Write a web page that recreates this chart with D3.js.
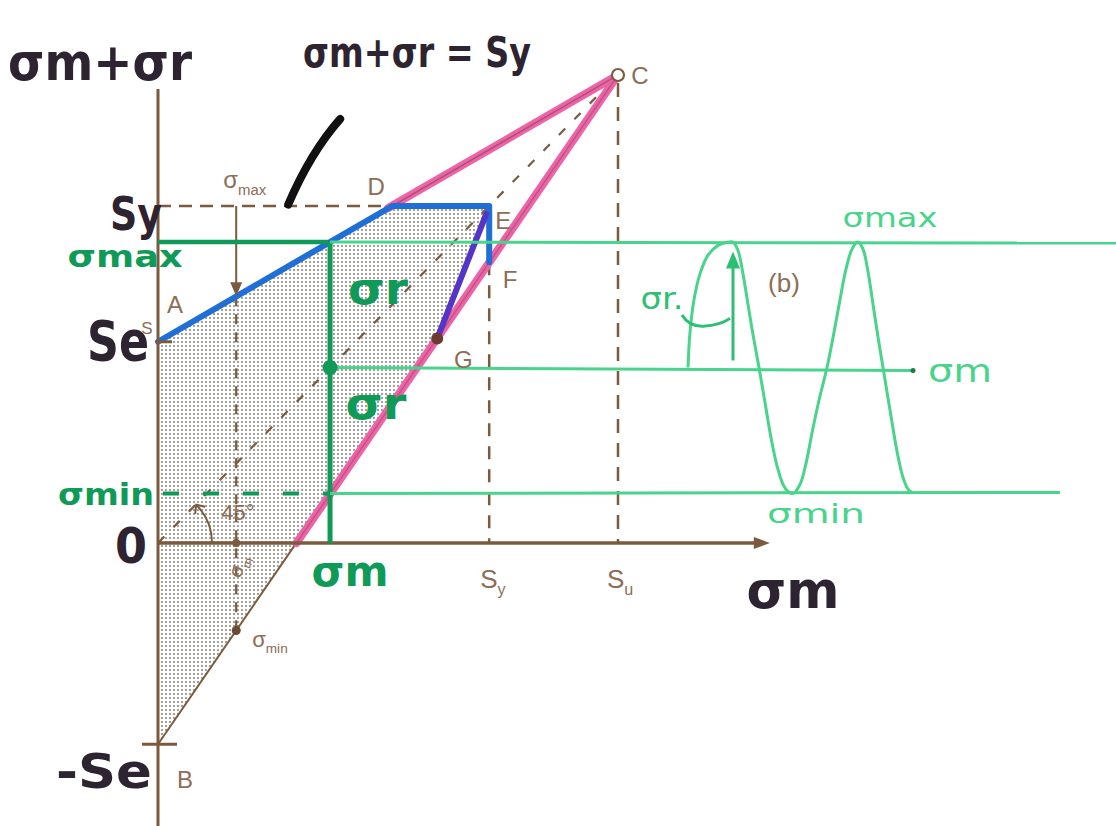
<!DOCTYPE html>
<html><head><meta charset="utf-8">
<script src="https://cdn.jsdelivr.net/npm/d3@7"></script>
<style>body{margin:0;background:#fff} svg{display:block}</style>
</head><body>
<svg id="c" width="1116" height="826"></svg>
<script>
// ---------------- data ----------------
const strengthNames = ["Se", "Sy", "Su"];
const strengthValues = [43, 72, 100];
const cornerNames = ["A", "D", "E", "F", "G", "B", "C"];
const cornerX = [0, 50.9, 72, 72, 60.7, 0, 100];
const cornerY = [43, 72, 72, 60, 43.7, -43, 100];
const lowerLineZeroX = 30.1;            // where line B-C crosses the σm axis
const exampleMean = [37.4, 17];          // σm of the two worked examples
const exampleMax = [64.3, 52.7];         // σmax
const exampleMin = [10.6, -18.7];        // σmin
const exampleMidY = [37.5];              // σm level on the 45° line
const xAxisExtent = [0, 133];
const yAxisExtent = [-61, 97];
// cyclic stress sketch (b): time vs stress
const waveT = [0,2,6,12,20,30,38,45,50,55,60,65,71,77,83,89,95,100,105,112,118,124,131,139,146,152,158,164,170,175,180,185,190,195,200,205,210,215,220,224];
const waveS = [37.5,45,52,57.5,61.5,63.6,64.2,64.3,62.5,57.5,51,44.5,37.5,30,22.5,16.5,12.5,11,10.6,12.5,17,23.5,30.5,37.5,45,52,58.5,62.8,64.3,62.8,58,51,44,37.5,31,24.5,18.5,14,11.5,10.8];
const waveRightEnds = [1116, 913, 1060]; // σmax, σm, σmin guide line ends (px of sketch b)

// ---------------- scales ----------------
const svg = d3.select("#c");
const x = d3.scaleLinear().domain([0, 100]).range([158, 618]);
const y = d3.scaleLinear().domain([0, 100]).range([543, 75]);
const t = d3.scaleLinear().domain([0, 224]).range([688, 912]);
const P = i => [x(cornerX[i]), y(cornerY[i])];
const Se = strengthValues[0], Sy = strengthValues[1], Su = strengthValues[2];

const BROWN = "#7b5a3e", LBROWN = "#8d6d55", PINK = "#ee63a7", BLUE = "#1f6fd6",
      PURPLE = "#5535c8", DGREEN = "#0f9a57", LGREEN = "#48d48b", INK = "#2e2330";

// pattern
const defs = svg.append("defs");
const pat = defs.append("pattern").attr("id", "dots").attr("width", 4).attr("height", 4)
  .attr("patternUnits", "userSpaceOnUse");
pat.append("circle").attr("cx", 2).attr("cy", 2).attr("r", 1).attr("fill", "#85807a");

const line = d3.line();

// shaded region A-D-E-G-B
const region = [P(0), P(1), P(2), P(4), P(5)];
svg.append("path").attr("d", line(region) + "Z").attr("fill", "url(#dots)").attr("stroke", "none");

// thin brown construction lines A-C and B-C
svg.append("path").attr("d", line([P(0), P(6)])).attr("stroke", BROWN).attr("stroke-width", 2).attr("fill", "none");
svg.append("path").attr("d", line([P(5), P(6)])).attr("stroke", BROWN).attr("stroke-width", 2).attr("fill", "none");

// dashed construction lines
const dashed = (pts, dash, w) => svg.append("path").attr("d", line(pts)).attr("fill", "none")
  .attr("stroke", BROWN).attr("stroke-width", w || 2.5).attr("stroke-dasharray", dash);
dashed([[x(0), y(Sy)], P(1)], "13,8");
dashed([P(3), [x(Sy), y(0)]], "13,10");
dashed([[x(Su), y(Su) + 8], [x(Su), y(0)]], "14,10");
dashed([[x(0), y(0)], [x(Su) - 6, y(Su) + 6]], "9,13", 2.2);
dashed([[x(exampleMean[1]), y(exampleMax[1])], [x(exampleMean[1]), y(exampleMin[1])]], "10,8", 2.2);

// pink
svg.append("path").attr("d", line([[x(cornerX[1]) - 4, y(cornerY[1]) + 2], P(6)]))
  .attr("stroke", PINK).attr("stroke-width", 8).attr("stroke-linecap", "round").attr("fill", "none");
svg.append("path").attr("d", line([[x(lowerLineZeroX), y(0)], P(6)]))
  .attr("stroke", PINK).attr("stroke-width", 8).attr("stroke-linecap", "round").attr("fill", "none");
svg.append("path").attr("d", line([P(1), P(6)])).attr("stroke", "#8a4a5a").attr("stroke-width", 1.4).attr("fill", "none").attr("opacity", 0.7);
svg.append("path").attr("d", line([[x(lowerLineZeroX), y(0)], P(6)])).attr("stroke", "#8a4a5a").attr("stroke-width", 1.4).attr("fill", "none").attr("opacity", 0.5);

// blue A-D-E-F
svg.append("path").attr("d", line([P(0), P(1), P(2), P(3)]))
  .attr("stroke", BLUE).attr("stroke-width", 6).attr("stroke-linejoin", "round").attr("stroke-linecap", "round").attr("fill", "none");
// purple E-G
svg.append("path").attr("d", line([[x(cornerX[2]) - 3, y(cornerY[2]) + 8], P(4)]))
  .attr("stroke", PURPLE).attr("stroke-width", 6).attr("stroke-linecap", "round").attr("fill", "none");

// axes
svg.append("line").attr("x1", x(0)).attr("x2", x(0)).attr("y1", y(yAxisExtent[1])).attr("y2", y(yAxisExtent[0]))
  .attr("stroke", BROWN).attr("stroke-width", 3);
svg.append("line").attr("x1", x(xAxisExtent[0])).attr("x2", x(xAxisExtent[1]) - 6).attr("y1", y(0)).attr("y2", y(0))
  .attr("stroke", BROWN).attr("stroke-width", 3.5);
const xe = x(xAxisExtent[1]), y0 = y(0);
svg.append("path").attr("d", `M${xe},${y0} L${xe - 16},${y0 - 6} L${xe - 16},${y0 + 6} Z`).attr("fill", BROWN);
svg.append("line").attr("x1", x(0) - 16).attr("x2", x(0) + 19).attr("y1", y(-Se)).attr("y2", y(-Se)).attr("stroke", BROWN).attr("stroke-width", 3);
svg.append("line").attr("x1", x(0) - 2).attr("x2", x(0) + 14).attr("y1", y(Se)).attr("y2", y(Se)).attr("stroke", BROWN).attr("stroke-width", 3);

// 45° arc
{
  const r = 54, cx = x(0), cy = y(0);
  const ex = cx + r * Math.cos(Math.PI / 4), ey = cy - r * Math.sin(Math.PI / 4);
  svg.append("path").attr("d", `M${cx + r},${cy} A${r},${r} 0 0 0 ${ex},${ey}`).attr("fill", "none").attr("stroke", BROWN).attr("stroke-width", 2);
  svg.append("path").attr("d", `M${ex - 1},${ey + 9} L${ex},${ey} L${ex + 9},${ey + 2}`).attr("fill", "none").attr("stroke", BROWN).attr("stroke-width", 2);
}

// σmax arrow (example at σm = 17)
{
  const ax = x(exampleMean[1]), y1 = y(Sy), y2 = y(exampleMax[1]);
  svg.append("line").attr("x1", ax).attr("x2", ax).attr("y1", y1).attr("y2", y2 - 10).attr("stroke", BROWN).attr("stroke-width", 2);
  svg.append("path").attr("d", `M${ax},${y2} L${ax - 6},${y2 - 14} L${ax + 6},${y2 - 14} Z`).attr("fill", BROWN);
  svg.append("circle").attr("cx", ax).attr("cy", y(0)).attr("r", 4).attr("fill", BROWN);
  svg.append("circle").attr("cx", ax).attr("cy", y(exampleMin[1])).attr("r", 4.5).attr("fill", "#6b4a35");
}

// green: left (dark) part
const m = exampleMean[0];
svg.append("line").attr("x1", x(0)).attr("x2", x(m) - 2).attr("y1", y(exampleMax[0])).attr("y2", y(exampleMax[0]))
  .attr("stroke", DGREEN).attr("stroke-width", 4.5);
svg.append("line").attr("x1", x(m)).attr("x2", x(m)).attr("y1", y(exampleMax[0])).attr("y2", y(0))
  .attr("stroke", DGREEN).attr("stroke-width", 5);
svg.append("line").attr("x1", x(0) + 5).attr("x2", x(m)).attr("y1", y(exampleMin[0])).attr("y2", y(exampleMin[0]))
  .attr("stroke", DGREEN).attr("stroke-width", 4).attr("stroke-dasharray", "16,24");
// green: light guide lines to sketch (b)
svg.append("line").attr("x1", x(m)).attr("x2", waveRightEnds[0]).attr("y1", y(exampleMax[0])).attr("y2", y(exampleMax[0]) + 1)
  .attr("stroke", LGREEN).attr("stroke-width", 3);
svg.append("line").attr("x1", x(m)).attr("x2", waveRightEnds[1]).attr("y1", y(exampleMidY[0])).attr("y2", y(exampleMidY[0]) + 3)
  .attr("stroke", LGREEN).attr("stroke-width", 3);
svg.append("line").attr("x1", x(m)).attr("x2", waveRightEnds[2]).attr("y1", y(exampleMin[0])).attr("y2", y(exampleMin[0]) - 1)
  .attr("stroke", LGREEN).attr("stroke-width", 3);
svg.append("circle").attr("cx", waveRightEnds[1]).attr("cy", y(exampleMidY[0]) + 3).attr("r", 2.5).attr("fill", "#1f7a45");
svg.append("circle").attr("cx", x(m)).attr("cy", y(exampleMidY[0])).attr("r", 7.5).attr("fill", DGREEN);

// G dot, C circle
svg.append("circle").attr("cx", P(4)[0]).attr("cy", P(4)[1]).attr("r", 6).attr("fill", "#6b3a33");
svg.append("circle").attr("cx", P(6)[0]).attr("cy", P(6)[1]).attr("r", 6).attr("fill", "#fff").attr("stroke", BROWN).attr("stroke-width", 2.2);

// wave (b)
const waveData = waveT.map((d, i) => [t(d), y(waveS[i])]);
svg.append("path").attr("d", d3.line().curve(d3.curveCatmullRom)(waveData)).attr("fill", "none")
  .attr("stroke", LGREEN).attr("stroke-width", 3);
{
  const ax = t(waveT[7]), yb = y(exampleMidY[0] + 1.5), yt = y(waveS[7] - 2);
  svg.append("line").attr("x1", ax).attr("x2", ax).attr("y1", yb).attr("y2", yt + 10).attr("stroke", "#2fbf72").attr("stroke-width", 3);
  svg.append("path").attr("d", `M${ax},${yt} L${ax - 7},${yt + 17} L${ax + 7},${yt + 17} Z`).attr("fill", "#2fbf72");
  const pp = d3.path();
  pp.moveTo(ax - 51, y(48.7));
  pp.quadraticCurveTo(ax - 44, y(46.2), ax - 30, y(46.3));
  pp.quadraticCurveTo(ax - 12, y(46.6), ax - 3, y(48));
  svg.append("path").attr("d", pp.toString()).attr("fill", "none").attr("stroke", "#2fbf72").attr("stroke-width", 3);
}

// black pointer stroke
{
  const pp = d3.path();
  pp.moveTo(x(39.6), y(90.6));
  pp.quadraticCurveTo(x(33.2), y(83.5), x(28.3), y(72.3));
  svg.append("path").attr("d", pp.toString()).attr("fill", "none").attr("stroke", "#111").attr("stroke-width", 8).attr("stroke-linecap", "round");
}

// ---------------- text ----------------
function txt(s, px, py, o) {
  const e = svg.append("text").attr("x", px).attr("y", py).text(s)
    .attr("text-anchor", o.anchor || "middle").attr("dominant-baseline", "central")
    .attr("font-family", o.family || "DejaVu Sans").attr("font-size", o.size)
    .attr("font-weight", o.weight || "normal").attr("fill", o.fill);
  if (o.len) e.attr("textLength", o.len).attr("lengthAdjust", "spacingAndGlyphs");
  if (o.rot) e.attr("transform", `rotate(${o.rot},${px},${py})`);
  return e;
}
const hand = { family: "DejaVu Sans", weight: "bold", fill: INK };
txt("σm+σr", 100, 62, { ...hand, size: 52, len: 184 });
txt("σm+σr = Sy", 417, 52, { ...hand, size: 42, len: 228 });
txt("Sy", 136, 214, { ...hand, size: 46, len: 52 });
txt("Se", 118, 340, { ...hand, size: 56, len: 62 });
txt("0", 131, 546, { ...hand, size: 50, len: 32 });
txt("-Se", 104, 771, { ...hand, size: 48, len: 96 });
txt("σm", 793, 590, { ...hand, size: 52, len: 93 });

const dg = { family: "DejaVu Sans", weight: "bold", fill: DGREEN };
txt("σmax", 125, 256, { ...dg, size: 30, len: 115 });
txt("σmin", 106, 494, { ...dg, size: 30, len: 96 });
txt("σm", 350, 571, { ...dg, size: 42, len: 77 });
txt("σr", 378, 288, { ...dg, size: 44, len: 60 });
txt("σr", 376, 403, { ...dg, size: 44, len: 61 });

const lg = { family: "DejaVu Sans", weight: "normal", fill: LGREEN };
txt("σmax", 890, 218, { ...lg, size: 26, len: 95 });
txt("σm", 960, 371, { ...lg, size: 32, len: 64 });
txt("σmin", 816, 514, { ...lg, size: 26, len: 98 });
txt("σr.", 662, 298, { ...lg, size: 30, len: 43, fill: "#2fbf72" });

const br = { family: "Liberation Sans", fill: LBROWN, size: 24 };
const labelOffsets = { A: [17, -37], D: [-16, -20], E: [14, 14], F: [21, 17], G: [26, 21], B: [27, 35], C: [22, 0] };
cornerNames.forEach((n, i) => {
  const off = labelOffsets[n];
  txt(n, P(i)[0] + off[0], P(i)[1] + off[1], br);
});
txt("S", 147, 328, { ...br, size: 17 });
txt("(b)", 784, 283, { ...br, size: 26 });
txt("45°", 238, 512, { ...br, size: 22 });
function sub(main, s, px, py, size, rot) {
  const e = svg.append("text").attr("x", px).attr("y", py).attr("font-family", "Liberation Sans")
    .attr("fill", LBROWN).attr("font-size", size).attr("text-anchor", "start");
  e.append("tspan").text(main);
  e.append("tspan").text(s).attr("font-size", size * 0.62).attr("dy", size * 0.28);
  if (rot) e.attr("transform", `rotate(${rot},${px},${py})`);
}
sub("S", "y", x(Sy) - 9, y(0) + 45, 26);
sub("S", "u", x(Su) - 11, y(0) + 45, 26);
sub("σ", "max", x(exampleMean[1]) - 13, y(Sy) - 18, 24);
sub("σ", "min", x(exampleMean[1]) + 16, y(exampleMin[1]) + 16, 22);
sub("σ", "m", x(exampleMean[1]) + 4, y(0) + 36, 20, -70);
</script>
</body></html>
